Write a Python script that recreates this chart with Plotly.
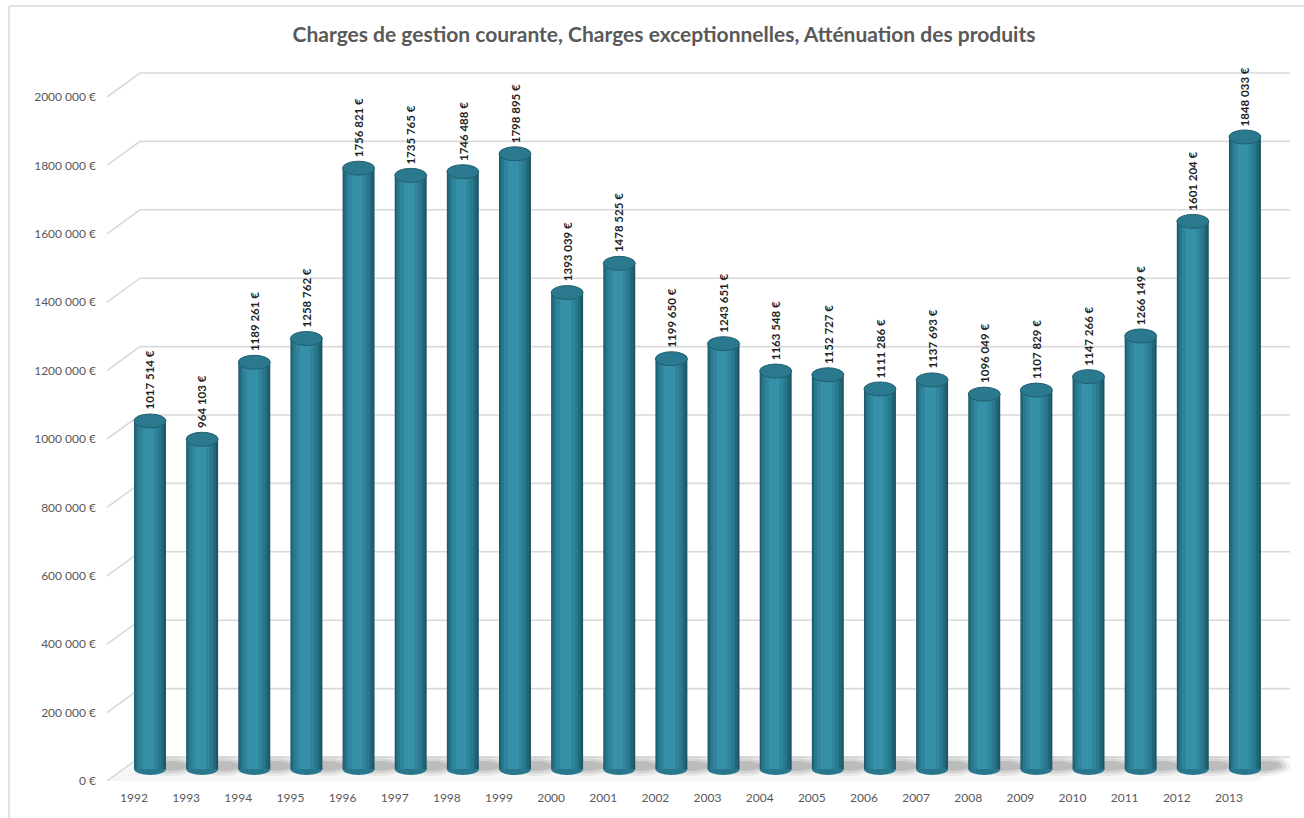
import plotly.graph_objects as go

# Data
years = [str(y) for y in range(1992, 2014)]
values = [1017514, 964103, 1189261, 1258762, 1756821, 1735765, 1746488, 1798895,
          1393039, 1478525, 1199650, 1243651, 1163548, 1152727, 1111286, 1137693,
          1096049, 1107829, 1147266, 1266149, 1601204, 1848033]
y_ticks = list(range(0, 2000001, 200000))
title_text = "Charges de gestion courante, Charges exceptionnelles, Atténuation des produits"


def euro(v):
    if v >= 1000:
        return f"{v // 1000} {v % 1000:03d} €"
    return f"{v} €"


W, H = 1304, 818
idx = list(range(len(years)))

# Pixel geometry of the pseudo-3D frame
px_per_cat = 52.14
px_per_eur = 0.000342
left_px = 100
floor_px = 781
x_lo = (left_px - 134) / px_per_cat
x_hi = (W - 134) / px_per_cat
y_hi = floor_px / px_per_eur

depth_dx = 33 / px_per_cat          # back wall shift (categories)
depth_dy = 24 / px_per_eur          # back wall shift (euros)
mid_dx = 16 / px_per_cat            # bars sit half-way in depth
mid_dy = 12 / px_per_eur

x_front = (107 - 134) / px_per_cat
x_end = (1290 - 134) / px_per_cat

grid_col = "#d9d9d9"
text_col = "#595959"

fig = go.Figure()

# Cylinder body: stacked overlays from dark rim to light core
bar_w = 0.613
layers = [
    (bar_w, 0.0, "#1c5666"),
    (0.56, -0.012, "#226779"),
    (0.47, -0.022, "#29788d"),
    (0.35, -0.03, "#2f859d"),
    (0.21, -0.03, "#3690a8"),
]
for w, s, c in layers:
    fig.add_trace(go.Bar(
        x=idx, y=values, width=w, offset=-w / 2 + s,
        marker=dict(color=c, line=dict(width=0)),
        xaxis="x2", yaxis="y2", hoverinfo="skip", showlegend=False,
    ))

shapes = []

# Floor band
shapes.append(dict(
    type="path", xref="x", yref="y", layer="below",
    path=(f"M {x_front},0 L {x_front + depth_dx},{depth_dy} "
          f"L {x_end},{depth_dy} L {x_end - depth_dx},0 Z"),
    fillcolor="rgba(0,0,0,0.035)", line=dict(width=0),
))

# Gridlines on side wall and back wall
for t in y_ticks:
    shapes.append(dict(
        type="path", xref="x", yref="y", layer="below",
        path=(f"M {x_front},{t} L {x_front + depth_dx},{t + depth_dy} "
              f"L {x_end},{t + depth_dy}"),
        line=dict(color=grid_col, width=1.6),
    ))

# Soft floor shadows cast to the right of each cylinder
for i in idx:
    for sw, sh, a in [(52, 20, 0.06), (44, 15, 0.08), (36, 10, 0.11)]:
        shapes.append(dict(
            type="circle", xref="x2", yref="y2", layer="below",
            xsizemode="pixel", ysizemode="pixel",
            xanchor=i + 0.38, yanchor=0,
            x0=-sw / 2, x1=sw / 2, y0=-sh / 2 + 3, y1=sh / 2 + 3,
            fillcolor=f"rgba(0,0,0,{a})", line=dict(width=0),
        ))

# Rounded bottoms of the cylinders
for i in idx:
    shapes.append(dict(
        type="circle", xref="x2", yref="y2", layer="below",
        ysizemode="pixel", yanchor=0, y0=-6, y1=6,
        x0=i - bar_w / 2, x1=i + bar_w / 2,
        fillcolor="#28778c", line=dict(width=0),
    ))

# Cylinder tops
for i, v in zip(idx, values):
    shapes.append(dict(
        type="circle", xref="x2", yref="y2", layer="above",
        ysizemode="pixel", yanchor=v, y0=-7, y1=7,
        x0=i - bar_w / 2, x1=i + bar_w / 2,
        fillcolor="#2a798e", line=dict(color="#215f70", width=1),
    ))

# Chart frame (left and top edges)
shapes.append(dict(type="line", xref="paper", yref="paper",
                   x0=9 / W, x1=9 / W, y0=0, y1=1 - 6 / H,
                   line=dict(color="#d9d9d9", width=1.5)))
shapes.append(dict(type="line", xref="paper", yref="paper",
                   x0=9 / W, x1=1, y0=1 - 6 / H, y1=1 - 6 / H,
                   line=dict(color="#d9d9d9", width=1.5)))

# Value labels above each cylinder
annotations = []
for i, v in zip(idx, values):
    annotations.append(dict(
        x=i, y=v, xref="x2", yref="y2", text=euro(v), textangle=-90,
        showarrow=False, xanchor="center", yanchor="bottom", yshift=9,
        font=dict(family="Lato", size=11.5, color="#1f1f1f", weight="bold"),
    ))

x_dom = [left_px / W, 1]
y_dom = [(H - floor_px) / H, 1]

fig.update_layout(
    width=W, height=H,
    margin=dict(l=0, r=0, t=0, b=0, autoexpand=False),
    paper_bgcolor="white", plot_bgcolor="rgba(0,0,0,0)",
    barmode="overlay",
    showlegend=False,
    title=dict(text=title_text, x=664 / W, xanchor="center",
               y=1 - 35 / H, yanchor="middle", yref="container",
               font=dict(family="Lato", size=21, color=text_col, weight="bold")),
    xaxis=dict(domain=x_dom, range=[x_lo, x_hi], tickvals=idx, ticktext=years,
               showgrid=False, zeroline=False, showline=False, ticks="",
               automargin=False, ticklabelstandoff=8,
               tickfont=dict(family="Lato", size=12, color=text_col)),
    yaxis=dict(domain=y_dom, range=[0, y_hi], tickvals=y_ticks,
               ticktext=[euro(t) for t in y_ticks],
               showgrid=False, zeroline=False, showline=False, ticks="",
               automargin=False, ticklabelstandoff=3,
               tickfont=dict(family="Lato", size=12, color=text_col)),
    xaxis2=dict(domain=x_dom, range=[x_lo - mid_dx, x_hi - mid_dx], overlaying="x",
                visible=False, anchor="y2", automargin=False),
    yaxis2=dict(domain=y_dom, range=[-mid_dy, y_hi - mid_dy], overlaying="y",
                visible=False, anchor="x2", automargin=False),
    shapes=shapes,
    annotations=annotations,
)

fig.write_html("out.html")
